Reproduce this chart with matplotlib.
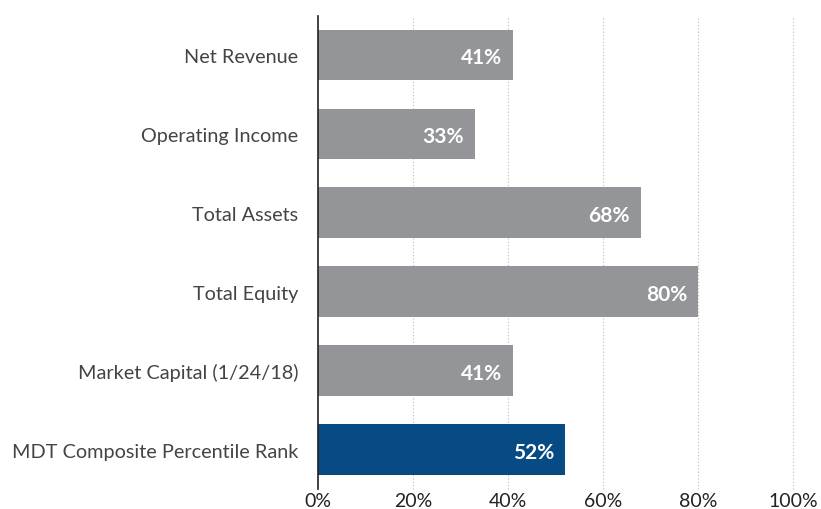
import matplotlib
matplotlib.use("Agg")
import matplotlib.pyplot as plt

categories = ["Net Revenue", "Operating Income", "Total Assets", "Total Equity",
              "Market Capital (1/24/18)", "MDT Composite Percentile Rank"]
values = [41, 33, 68, 80, 41, 52]
colors = ["#939598", "#939598", "#939598", "#939598", "#939598", "#074B84"]
xticks = [0, 20, 40, 60, 80, 100]
xtick_labels = ["0%", "20%", "40%", "60%", "80%", "100%"]

fig = plt.figure(figsize=(8.21, 5.10), dpi=100)
ax = fig.add_axes([318/821, 1-490/510, (793-318)/821, (490-16.6)/510])

ypos = list(range(len(categories)))
ax.barh(ypos, values, height=0.645, color=colors, zorder=2)
for y, v in zip(ypos, values):
    ax.text(v - 2.3, y + 0.03, f"{v}%", ha="right", va="center", color="white",
            fontsize=15, fontweight="bold", family=["Lato", "DejaVu Sans"], zorder=3)

ax.set_xlim(0, 100)
ax.set_ylim(5.5, -0.5)
ax.set_yticks(ypos)
ax.set_yticklabels(categories, fontsize=14.3, family=["Lato", "DejaVu Sans"],
                   fontweight="normal", color="#444444")
ax.set_xticks(xticks)
ax.set_xticklabels(xtick_labels, fontsize=14, family=["Lato", "DejaVu Sans"], color="#222222")
ax.tick_params(axis="both", length=0)
ax.tick_params(axis="y", pad=14)
ax.tick_params(axis="x", pad=2)

for x in xticks[1:]:
    ax.axvline(x, color="#bbbbbb", linestyle=(0, (1, 2)), linewidth=0.8, zorder=1, clip_on=False)

for s in ["top", "right", "bottom"]:
    ax.spines[s].set_visible(False)
ax.spines["left"].set_color("#222222")
ax.spines["left"].set_linewidth(1.2)
ax.spines["left"].set_zorder(4)

fig.savefig("out.png", dpi=100)
